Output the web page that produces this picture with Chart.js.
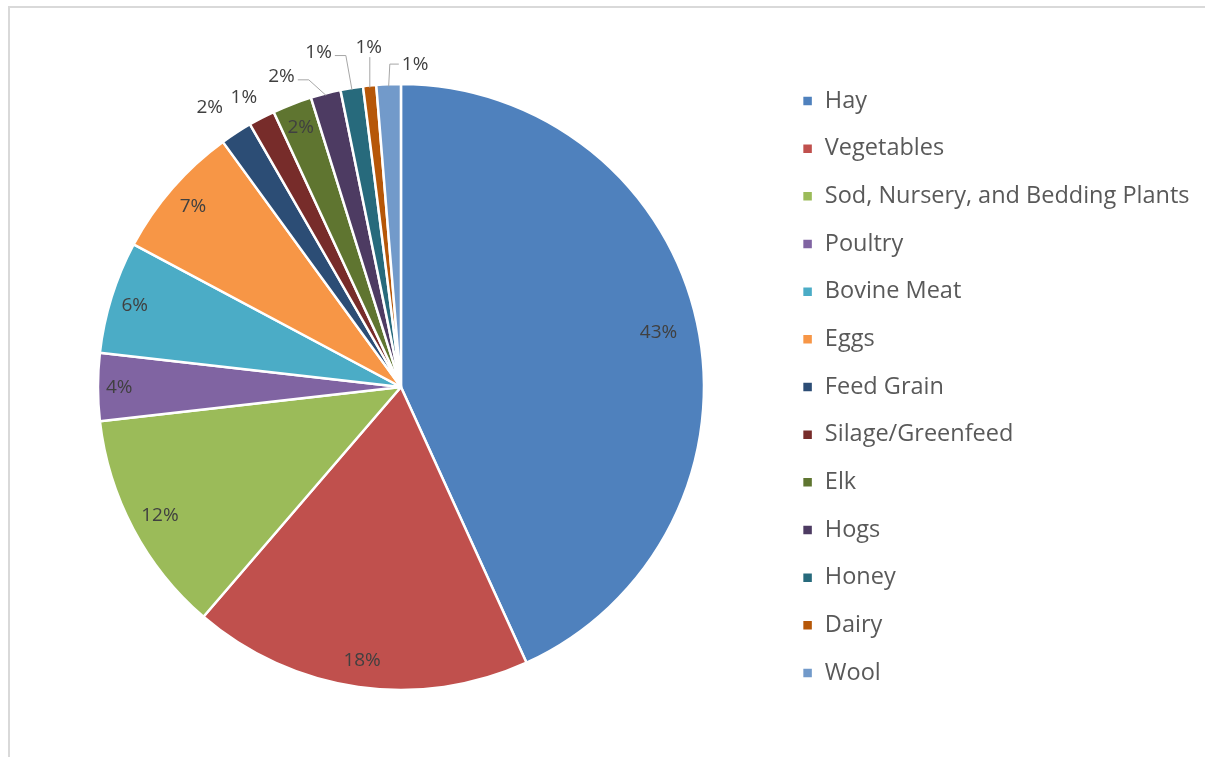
<!DOCTYPE html>
<html>
<head>
<meta charset="utf-8">
<title>Farm Cash Receipts by Commodity</title>
<script src="https://cdn.jsdelivr.net/npm/chart.js@4.4.1/dist/chart.umd.min.js"></script>
<style>
    html, body { margin: 0; padding: 0; background: #fff; }
    #wrap { position: relative; width: 1205px; height: 757px; overflow: hidden; }
    #frame {
        position: absolute; left: 8px; top: 6px; right: -4px; bottom: -4px;
        border-left: 2px solid #d9d9d9; border-top: 2px solid #d9d9d9;
        pointer-events: none;
    }
    canvas { position: absolute; left: 0; top: 0; }
</style>
</head>
<body>
<div id="wrap">
    <canvas id="pieChart" width="1205" height="757"></canvas>
    <div id="frame"></div>
</div>
<script>
const categories = ['Hay', 'Vegetables', 'Sod, Nursery, and Bedding Plants', 'Poultry', 'Bovine Meat',
    'Eggs', 'Feed Grain', 'Silage/Greenfeed', 'Elk', 'Hogs', 'Honey', 'Dairy', 'Wool'];
const shares = [43.2, 18.1, 11.9, 3.6, 6.0, 7.2, 1.7, 1.4, 2.1, 1.6, 1.2, 0.7, 1.3];
const sliceColors = ['#4f81bd', '#c0504d', '#9bbb59', '#8064a2', '#4bacc6', '#f79646',
    '#2c4d75', '#772c2a', '#5f7530', '#4d3b62', '#276a7c', '#b65708', '#729aca'];

// label spot per slice: r = fraction of radius, deg = angle from 12 o'clock (defaults to slice middle)
const labelSpots = [
    { r: 0.87 }, { r: 0.91 }, { r: 0.90 }, { r: 0.93 }, { r: 0.92 }, { r: 0.91 },
    { r: 1.12, deg: 325.7 }, { r: 1.09, deg: 331.6 }, { r: 0.92 },
    { r: 1.10, deg: 339, leader: true }, { r: 1.14, deg: 346.2, leader: true },
    { r: 1.13, deg: 354.6, leader: true }, { r: 1.07, deg: 2.5, leader: true }
];

const percentLabels = {
    id: 'percentLabels',
    afterDatasetsDraw(chart) {
        const ctx = chart.ctx;
        const arcs = chart.getDatasetMeta(0).data;
        const values = chart.data.datasets[0].data;
        const total = values.reduce((a, b) => a + b, 0);
        ctx.save();
        ctx.font = '19px "Open Sans"';
        ctx.textAlign = 'center';
        ctx.textBaseline = 'middle';
        arcs.forEach((arc, i) => {
            const spot = labelSpots[i];
            const mid = (arc.startAngle + arc.endAngle) / 2;
            const ang = spot.deg !== undefined ? (spot.deg - 90) * Math.PI / 180 : mid;
            const rr = arc.outerRadius * spot.r;
            const lx = arc.x + Math.cos(ang) * rr;
            const ly = arc.y + Math.sin(ang) * rr;
            const text = Math.round(values[i] / total * 100) + '%';

            if (spot.leader) {
                const rimX = arc.x + Math.cos(mid) * (arc.outerRadius - 2);
                const rimY = arc.y + Math.sin(mid) * (arc.outerRadius - 2);
                const half = ctx.measureText(text).width / 2;
                ctx.strokeStyle = '#a6a6a6';
                ctx.lineWidth = 1;
                ctx.beginPath();
                if (rimX > lx + half) {
                    ctx.moveTo(lx + half + 3, ly + 4);
                    ctx.lineTo(Math.min(lx + half + 14, rimX), ly + 4);
                } else if (rimX < lx - half) {
                    ctx.moveTo(lx - half - 3, ly + 1);
                    ctx.lineTo(Math.max(lx - half - 12, rimX), ly + 1);
                } else {
                    ctx.moveTo(rimX, ly + 11);
                }
                ctx.lineTo(rimX, rimY);
                ctx.stroke();
            }
            ctx.fillStyle = '#404040';
            ctx.fillText(text, lx, ly + 1);
        });
        ctx.restore();
    }
};

new Chart(document.getElementById('pieChart'), {
    type: 'pie',
    data: {
        labels: categories,
        datasets: [{
            data: shares,
            backgroundColor: sliceColors,
            borderColor: '#ffffff',
            borderWidth: 2.5,
            radius: 303
        }]
    },
    options: {
        responsive: false,
        animation: false,
        events: [],
        layout: { padding: { left: 24, right: 5.5, top: 30, bottom: 13 } },
        plugins: {
            tooltip: { enabled: false },
            legend: {
                position: 'right',
                align: 'center',
                labels: {
                    boxWidth: 11,
                    boxHeight: 11,
                    padding: 24.17,
                    color: '#595959',
                    font: { family: '"Open Sans"', size: 23.5 }
                }
            }
        }
    },
    plugins: [percentLabels]
});
</script>
</body>
</html>
